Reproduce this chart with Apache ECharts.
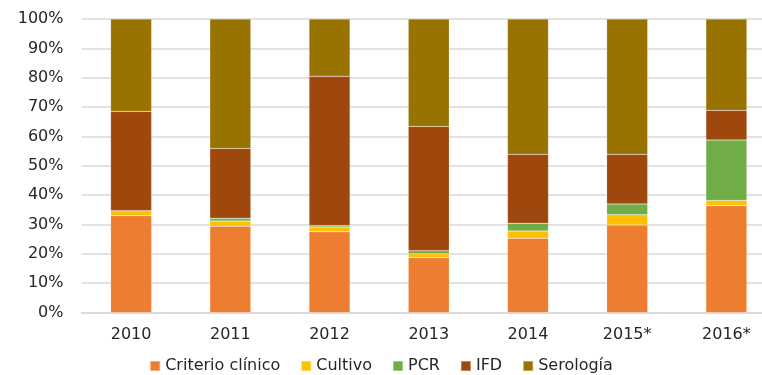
<!DOCTYPE html>
<html><head><meta charset="utf-8">
<script src="https://cdn.jsdelivr.net/npm/echarts@6/dist/echarts.min.js"></script>
<style>html,body{margin:0;padding:0;background:#fff}#c{width:762px;height:375px}</style>
</head><body><div id="c"></div>
<script>
const categories = ['2010','2011','2012','2013','2014','2015*','2016*'];
const criterioClinico = [33.0, 29.4, 27.5, 18.7, 25.3, 29.8, 36.4];
const cultivo = [1.7, 1.8, 1.6, 1.3, 2.5, 3.5, 1.8];
const pcr = [0, 0.9, 0.5, 1.0, 2.6, 3.7, 20.6];
const ifd = [33.8, 23.8, 50.9, 42.4, 23.5, 16.9, 10.1];
const serologia = [31.5, 44.1, 19.5, 36.6, 46.1, 46.1, 31.1];
const yTicks = [0,10,20,30,40,50,60,70,80,90,100];

const names = ['Criterio clínico','Cultivo','PCR','IFD','Serología'];
const datas = [criterioClinico, cultivo, pcr, ifd, serologia];
const colors = ['#ED7D31','#FFC000','#70AD47','#9E480E','#997300'];
const font = 'DejaVu Sans, Verdana, sans-serif';

const chart = echarts.init(document.getElementById('c'));
chart.setOption({
  animation: false,
  color: colors,
  grid: {left: 81.5, width: 694.5, top: 19, height: 293.5, outerBoundsMode: 'none', containLabel: false},
  legend: {
    top: 353, left: 'center', itemWidth: 10, itemHeight: 10, itemGap: 20,
    icon: 'rect',
    textStyle: {fontFamily: font, fontSize: 16, color: '#262626'},
    data: names
  },
  xAxis: {
    type: 'category', data: categories,
    axisLine: {lineStyle: {color: '#d9d9d9', width: 1.5}},
    axisTick: {show: false},
    axisLabel: {fontFamily: font, fontSize: 16, color: '#262626', margin: 14}
  },
  yAxis: {
    type: 'value', min: yTicks[0], max: yTicks[yTicks.length-1], interval: 10,
    axisLine: {show: false}, axisTick: {show: false},
    splitLine: {lineStyle: {color: '#d9d9d9', width: 1.5}},
    axisLabel: {fontFamily: font, fontSize: 16, color: '#262626', margin: 18, formatter: v => v + '%'}
  },
  series: names.map((n, i) => ({
    name: n, type: 'bar', stack: 'all', data: datas[i], barWidth: 41,
    itemStyle: {color: colors[i], borderColor: 'rgba(255,255,255,0.35)', borderWidth: 0.5}
  }))
});
</script></body></html>
